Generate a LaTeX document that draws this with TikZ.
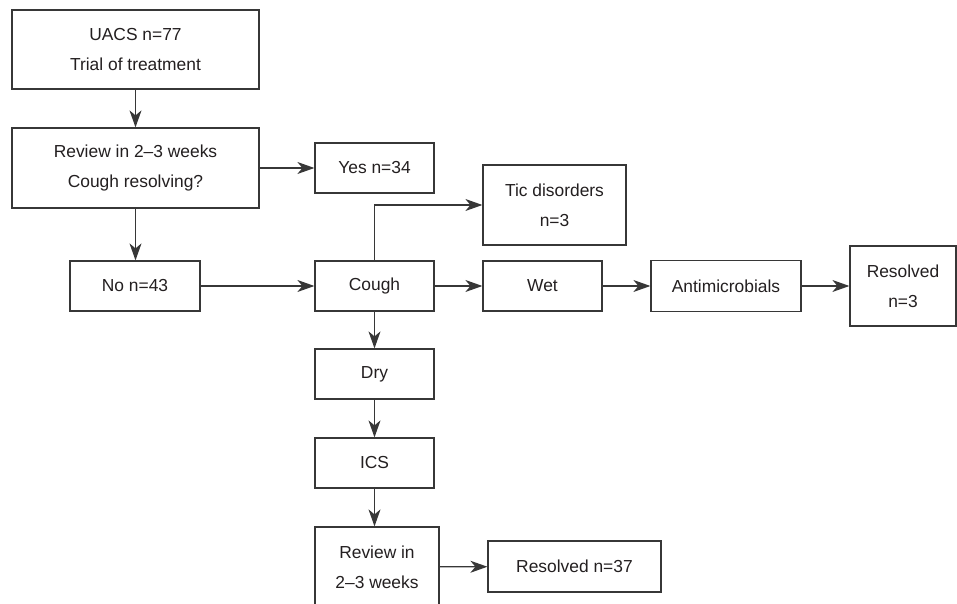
\documentclass[tikz,border=0pt]{standalone}
\usepackage{fontspec}
\setmainfont{Liberation Sans}
\usepackage{tikz}
\usepackage{xcolor}
\usetikzlibrary{positioning,arrows.meta,calc}
\definecolor{myline}{RGB}{55,55,55}
\definecolor{mytext}{RGB}{35,31,32}
\tikzset{
    box/.style={
        rectangle,
        draw=myline,
        fill=white,
        line width=0.7pt,
        align=center,
        inner sep=0pt,
        text=mytext,
        font=\fontsize{9.9}{17}\selectfont
    },
    arr/.style={-{Stealth[length=0.34cm,width=0.24cm,inset=0.1cm]},line width=0.7pt,myline}
}
\begin{document}
\begin{tikzpicture}[x=0.02cm,y=-0.02cm]
\useasboundingbox (0,0) rectangle (957,604);

\node[box,minimum width=4.94cm,minimum height=1.58cm] (uacs) at (135.5,49.5) {UACS n=77\\Trial of treatment};
\node[box,minimum width=4.94cm,minimum height=1.6cm] (rev1) at (135.5,168) {Review in 2--3 weeks\\Cough resolving?};
\node[box,minimum width=2.38cm,minimum height=1.0cm] (yes) at (374.5,168) {Yes n=34};

\node[box,minimum width=2.6cm,minimum height=1.0cm] (no) at (135,286) {No n=43};
\node[box,minimum width=2.38cm,minimum height=1.0cm] (cough) at (374.5,286) {Cough};
\node[box,minimum width=2.86cm,minimum height=1.6cm] (tic) at (554.5,205) {Tic disorders\\n=3};
\node[box,minimum width=2.38cm,minimum height=1.0cm] (wet) at (542.5,286) {Wet};
\node[box,minimum width=3.0cm,minimum height=1.02cm] (anti) at (726,286) {Antimicrobials};
\node[box,minimum width=2.12cm,minimum height=1.6cm] (res3) at (903,286) {Resolved\\n=3};

\node[box,minimum width=2.38cm,minimum height=1.0cm] (dry) at (374.5,374) {Dry};
\node[box,minimum width=2.38cm,minimum height=1.0cm] (ics) at (374.5,463) {ICS};
\node[box,minimum width=2.48cm,minimum height=1.6cm] (rev2) at (377,567) {Review in\\2--3 weeks};
\node[box,minimum width=3.46cm,minimum height=1.02cm] (res37) at (574.5,566.5) {Resolved n=37};

\draw[arr] (uacs) -- (rev1);
\draw[arr] (rev1) -- (yes);
\draw[arr] (rev1.south) -- (rev1.south |- no.north);
\draw[arr] (no) -- (cough);
\draw[arr] (cough.north) |- (tic.west);
\draw[arr] (cough) -- (wet);
\draw[arr] (wet) -- (anti);
\draw[arr] (anti) -- (res3);
\draw[arr] (cough) -- (dry);
\draw[arr] (dry) -- (ics);
\draw[arr] (ics.south) -- (ics.south |- rev2.north);
\draw[arr] (rev2) -- (res37);
\end{tikzpicture}
\end{document}
